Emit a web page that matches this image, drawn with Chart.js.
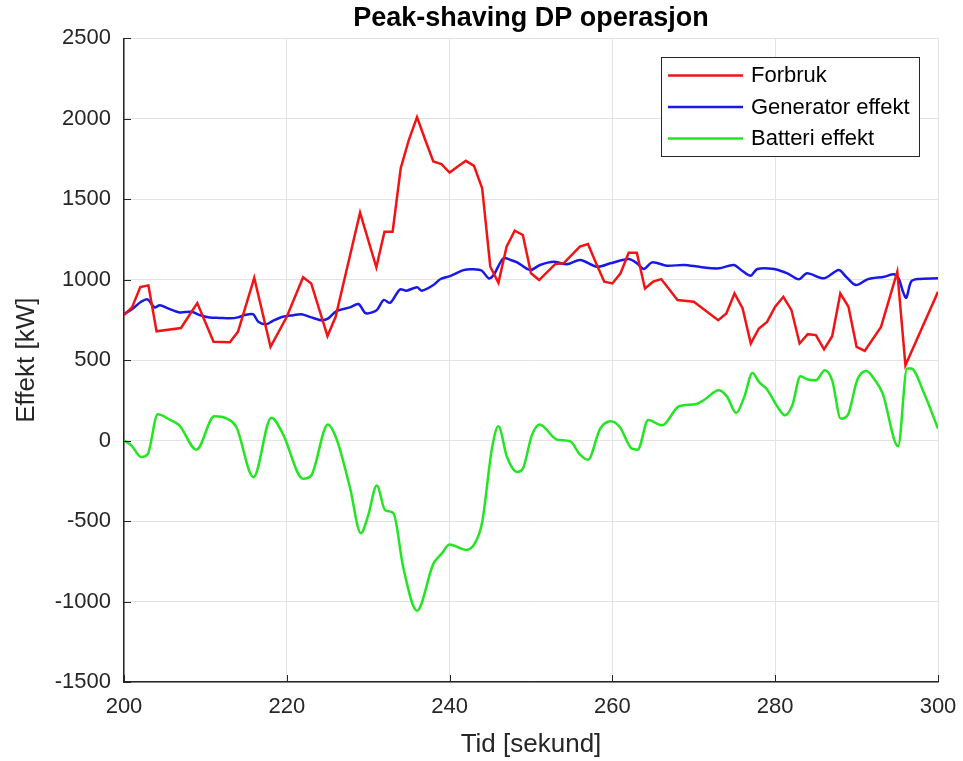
<!DOCTYPE html>
<html>
<head>
<meta charset="utf-8">
<title>Peak-shaving DP operasjon</title>
<script src="https://cdn.jsdelivr.net/npm/chart.js@4/dist/chart.umd.min.js"></script>
<style>
  html, body { margin: 0; padding: 0; background: #ffffff; }
  #wrap { width: 963px; height: 761px; }
</style>
</head>
<body>
<div id="wrap"><canvas id="peakChart" width="963" height="761"></canvas></div>
<script>
// Forbruk (load) - piecewise linear, sampled at the breakpoints
const tForbruk = [200, 201, 202, 203, 204, 207, 209, 211, 213, 214, 216, 218, 220, 222, 223, 225, 226, 229,
  231, 232, 233, 234, 235, 236, 237, 238, 239, 240, 241, 242, 243, 244, 245, 246, 247, 248, 249, 250, 251,
  253, 254, 256, 257, 258, 259, 260, 261, 262, 263, 264, 265, 266, 268, 270, 273, 274, 275, 276, 277, 278,
  279, 280, 281, 282, 283, 284, 285, 286, 287, 288, 289, 290, 291, 293, 295, 296, 300];
const forbruk = [780, 830, 955, 965, 680, 700, 855, 615, 612, 676, 1012, 583, 770, 1015, 977, 650, 770, 1417,
  1077, 1299, 1299, 1694, 1870, 2011, 1870, 1735, 1719, 1666, 1704, 1739, 1708, 1569, 1081, 981, 1206, 1305, 1278, 1040, 998,
  1098, 1102, 1206, 1222, 1102, 988, 977, 1040, 1168, 1168, 946, 988, 1004, 874, 863, 749, 791, 915, 822, 604, 697,
  738, 832, 894, 811, 604, 662, 656, 567, 649, 915, 832, 583, 558, 707, 1050, 469, 925];

// Generator effekt
const tGenerator = [200, 201.1, 202.1, 202.9, 203.75, 204.4, 205.4, 206.8, 208.3, 209.3, 210.5, 211.75, 213, 214,
  214.8, 215.85, 216.5, 217.5, 218.3, 219.5, 220.8, 221.8, 223, 224.3, 225.1, 226.1, 227.75, 228.8, 229.6, 230,
  231.05, 231.9, 232.7, 233.9, 234.7, 236, 236.6, 238, 238.85, 240.06, 241.7, 242.9, 243.96, 244.8, 245.4, 246.6,
  247.5, 248.3, 249.9, 251.1, 252.8, 254.4, 256.06, 258.1, 259.76, 262, 263.03, 263.85, 264.9, 266.7, 268.8,
  270.8, 273.1, 274.9, 275.97, 276.98, 277.8, 279.85, 281.5, 282.9, 283.9, 286, 287.8, 288.7, 289.9, 291.4,
  293.4, 294.6, 295.2, 295.7, 296.1, 296.7, 297.5, 300];
const generator = [786, 822, 863, 878, 828, 842, 822, 797, 801, 780, 766, 763, 760, 766,
  780, 786, 739, 724, 745, 770, 780, 786, 766, 748, 760, 805, 828, 849, 795, 791,
  811, 874, 857, 940, 932, 953, 932, 967, 1003, 1023, 1060, 1065, 1056, 1009, 1029, 1133,
  1123, 1108, 1060, 1092, 1112, 1096, 1123, 1081, 1102, 1129, 1102, 1067, 1108, 1087, 1092,
  1079, 1071, 1092, 1054, 1025, 1067, 1067, 1040, 1003, 1040, 1009, 1060, 1019, 967, 1004,
  1019, 1034, 1004, 925, 888, 988, 1004, 1009];

// Batteri effekt - filtered, drawn as a smooth curve
const tBatteri = [200, 200.9, 202.1, 202.9, 204.15, 205.6, 206.8, 208.9, 211.1, 212.6, 213.8, 215.9, 218.1, 219.5,
  222, 223, 225.05, 226.1, 227.75, 229.1, 230, 231.05, 232.1, 233.1, 234.3, 236, 238, 239, 240, 242, 243.1,
  244, 245.2, 246, 247.05, 248.3, 249, 250.1, 251.05, 253.2, 254.8, 256, 257, 258.5, 259.8, 260.9, 262.4,
  263.1, 264.4, 266.1, 268.2, 270.2, 271.2, 273.1, 274.1, 275.2, 276.2, 277.2, 278, 279, 280.3, 281.2,
  282.1, 283.1, 284, 285, 286.1, 287, 288.06, 288.9, 290.1, 291.2, 292.2, 293.2, 295.1, 296.2, 296.7, 298.3, 300];
const batteri = [0, -29, -102, -85, 164, 131, 95, -56, 151, 137, 85, -227, 143, 44,
  -237, -216, 101, 12, -289, -575, -465, -278, -434, -451, -787, -1057, -766, -704, -646, -679, -638,
  -507, -50, 89, -102, -195, -174, 33, 101, 6, -4, -85, -118, 75, 120, 85, -50,
  -56, 128, 95, 214, 226, 251, 313, 272, 172, 272, 421, 365, 318, 209, 158,
  220, 400, 380, 375, 438, 375, 137, 158, 380, 433, 380, 293, -35, 448, 448, 293, 75];

const X_TICKS = [200, 220, 240, 260, 280, 300];
const Y_TICKS = [-1500, -1000, -500, 0, 500, 1000, 1500, 2000, 2500];

const SERIES_COLORS = {
  forbruk: '#f01414',
  generator: '#1818e8',
  batteri: '#22e622'
};

const AXIS_COLOR = '#262626';
const GRID_COLOR = '#e3e3e3';
const FONT_FAMILY = '"Liberation Sans", Arial, Helvetica, sans-serif';

function toPoints(xs, ys) {
  return xs.map((x, i) => ({ x: x, y: ys[i] }));
}

// short inward tick marks on the left and bottom axes
const innerTicks = {
  id: 'innerTicks',
  afterDatasetsDraw(chart) {
    const { ctx, chartArea, scales } = chart;
    ctx.save();
    ctx.strokeStyle = AXIS_COLOR;
    ctx.lineWidth = 1;
    ctx.beginPath();
    Y_TICKS.forEach(v => {
      const y = Math.round(scales.y.getPixelForValue(v)) + 0.5;
      ctx.moveTo(chartArea.left, y);
      ctx.lineTo(chartArea.left + 7, y);
    });
    X_TICKS.forEach(v => {
      const x = Math.round(scales.x.getPixelForValue(v)) + 0.5;
      ctx.moveTo(x, chartArea.bottom);
      ctx.lineTo(x, chartArea.bottom - 7);
    });
    ctx.stroke();
    ctx.restore();
  }
};

// boxed legend in the upper right corner of the plot
const boxLegend = {
  id: 'boxLegend',
  afterDraw(chart) {
    const { ctx, chartArea } = chart;
    const right = chartArea.right - 19;
    const top = chartArea.top + 19;
    const w = 258, h = 99;
    const left = right - w;
    ctx.save();
    ctx.fillStyle = '#ffffff';
    ctx.fillRect(left, top, w, h);
    ctx.strokeStyle = '#262626';
    ctx.lineWidth = 1;
    ctx.strokeRect(Math.round(left) + 0.5, Math.round(top) + 0.5, w, h);
    ctx.font = '22px ' + FONT_FAMILY;
    ctx.textBaseline = 'middle';
    ctx.fillStyle = '#000000';
    chart.data.datasets.forEach((ds, i) => {
      const y = top + 18 + i * 31.5;
      ctx.strokeStyle = ds.borderColor;
      ctx.lineWidth = 2.5;
      ctx.beginPath();
      ctx.moveTo(left + 7, y);
      ctx.lineTo(left + 82, y);
      ctx.stroke();
      ctx.fillText(ds.label, left + 90, y + 1);
    });
    ctx.restore();
  }
};

const ctx = document.getElementById('peakChart').getContext('2d');

new Chart(ctx, {
  type: 'line',
  data: {
    datasets: [
      {
        label: 'Forbruk',
        data: toPoints(tForbruk, forbruk),
        borderColor: SERIES_COLORS.forbruk,
        borderWidth: 2.5,
        pointRadius: 0,
        tension: 0
      },
      {
        label: 'Generator effekt',
        data: toPoints(tGenerator, generator),
        borderColor: SERIES_COLORS.generator,
        borderWidth: 2.5,
        pointRadius: 0,
        tension: 0.3
      },
      {
        label: 'Batteri effekt',
        data: toPoints(tBatteri, batteri),
        borderColor: SERIES_COLORS.batteri,
        borderWidth: 2.5,
        pointRadius: 0,
        cubicInterpolationMode: 'monotone'
      }
    ]
  },
  options: {
    responsive: false,
    animation: false,
    layout: {
      padding: { left: 0, right: 25, top: 0, bottom: 0 }
    },
    plugins: {
      legend: { display: false },
      tooltip: { enabled: false },
      title: {
        display: true,
        text: 'Peak-shaving DP operasjon',
        fullSize: false,
        color: '#000000',
        font: { family: FONT_FAMILY, size: 27, weight: 'bold', lineHeight: 1.2 },
        padding: { top: 2, bottom: 4 }
      }
    },
    scales: {
      x: {
        type: 'linear',
        min: 200,
        max: 300,
        afterFit: scale => {
          scale.height = 79;
          scale.paddingLeft = 0;
          scale.paddingRight = 0;
        },
        afterBuildTicks: scale => { scale.ticks = X_TICKS.map(v => ({ value: v })); },
        ticks: {
          color: AXIS_COLOR,
          font: { family: FONT_FAMILY, size: 22 },
          padding: 12,
          maxRotation: 0,
          callback: v => String(v)
        },
        grid: { color: GRID_COLOR, lineWidth: 1, drawTicks: false },
        border: { display: true, color: AXIS_COLOR, width: 1.5 },
        title: {
          display: true,
          text: 'Tid [sekund]',
          color: AXIS_COLOR,
          font: { family: FONT_FAMILY, size: 26, lineHeight: 1.2 },
          padding: { top: 0, bottom: 1 }
        }
      },
      y: {
        min: -1500,
        max: 2500,
        afterFit: scale => {
          scale.width = 124;
          scale.paddingTop = 0;
          scale.paddingBottom = 0;
        },
        afterBuildTicks: scale => { scale.ticks = Y_TICKS.map(v => ({ value: v })); },
        ticks: {
          color: AXIS_COLOR,
          font: { family: FONT_FAMILY, size: 22 },
          padding: 13,
          callback: v => String(v)
        },
        grid: { color: GRID_COLOR, lineWidth: 1, drawTicks: false },
        border: { display: true, color: AXIS_COLOR, width: 1.5 },
        title: {
          display: true,
          text: 'Effekt [kW]',
          color: AXIS_COLOR,
          font: { family: FONT_FAMILY, size: 26, lineHeight: 1.2 },
          padding: { top: 11, bottom: 0 }
        }
      }
    }
  },
  plugins: [innerTicks, boxLegend]
});
</script>
</body>
</html>
